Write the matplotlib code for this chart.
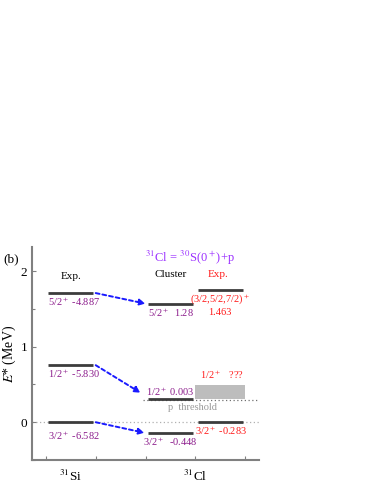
import matplotlib.pyplot as plt
from matplotlib.patches import Rectangle
from matplotlib.ticker import MultipleLocator

plt.rcParams['font.family'] = ['Liberation Serif', 'DejaVu Serif']
plt.rcParams['mathtext.fontset'] = 'stix'

# level energies (MeV, as drawn)
si_levels = [1.71, 0.755, 0.0]
si_labels = ["5/2$^+$ -4.887", "1/2$^+$ -5.830", "3/2$^+$ -6.582"]
cl_levels = [1.56, 0.305, -0.145]
cl_labels = ["5/2$^+$  1.28", "1/2$^+$ 0.003", "3/2$^+$  -0.448"]
exp_levels = [1.75, 0.0]
threshold = 0.29
box_top = 0.49

purple = "#8b1a8b"
red = "#ff1a1a"
violet = "#9b30ff"
blue = "#1a1aff"
lvl = "#3c3c3c"
gray = "#808080"

fig = plt.figure(figsize=(3.74, 4.84), dpi=100)
ax = fig.add_axes([32/374, 24/484, 227/374, 213/484])
ax.set_xlim(-0.28, 4.28)
ax.set_ylim(-0.5, 2.32)

for e in si_levels:
    ax.plot([0.05, 0.95], [e, e], color=lvl, lw=2.0, solid_capstyle='butt', zorder=3)
for e in cl_levels:
    ax.plot([2.05, 2.95], [e, e], color=lvl, lw=2.0, solid_capstyle='butt', zorder=3)
for e in exp_levels:
    ax.plot([3.05, 3.95], [e, e], color=lvl, lw=2.0, solid_capstyle='butt', zorder=3)

ax.axhline(0, color="#b0b0b0", ls=(0, (1, 2)), lw=0.9, zorder=1)
ax.plot([1.95, 4.25], [threshold, threshold], color="#707070", ls=(0, (1, 2)), lw=0.9, zorder=1)
ax.add_patch(Rectangle((3.0, threshold + 0.02), 1.0, box_top - threshold - 0.02,
                       color="#bdbdbd", lw=0, zorder=2))

# arrows Si -> Cl
ends = [(2.0, 1.57), (1.9, 0.39), (1.98, -0.14)]
for e, (xe, ye) in zip(si_levels, ends):
    ax.annotate("", xy=(xe, ye), xytext=(1.0, e),
                arrowprops=dict(arrowstyle="-|>", color=blue, lw=1.4, ls=(0, (2, 1.5)),
                                mutation_scale=9, shrinkA=0, shrinkB=0))

fs = 7.5
ax.text(0.05, si_levels[0] - 0.03, si_labels[0], color=purple, fontsize=fs, va='top')
ax.text(0.05, si_levels[1] - 0.03, si_labels[1], color=purple, fontsize=fs, va='top')
ax.text(0.05, si_levels[2] - 0.1, si_labels[2], color=purple, fontsize=fs, va='top')
ax.text(2.05, cl_levels[0] - 0.03, cl_labels[0], color=purple, fontsize=fs, va='top')
ax.text(2.0, cl_levels[1] + 0.02, cl_labels[1], color=purple, fontsize=fs, va='bottom')
ax.text(1.95, cl_levels[2] - 0.03, cl_labels[2], color=purple, fontsize=fs, va='top')
ax.text(3.5, exp_levels[0] - 0.03, "(3/2,5/2,7/2)$^+$", color=red, fontsize=fs, va='top', ha='center')
ax.text(3.5, exp_levels[0] - 0.24, "1.463", color=red, fontsize=fs, va='top', ha='center')
ax.text(3.1, box_top + 0.05, "1/2$^+$   ???", color=red, fontsize=fs, va='bottom')
ax.text(3.0, exp_levels[1] - 0.03, "3/2$^+$ -0.283", color=red, fontsize=fs, va='top')
ax.text(2.95, threshold - 0.04, "p  threshold", color="#999999", fontsize=fs, va='top', ha='center')

ax.text(0.5, 1.9, "Exp.", color="black", fontsize=8, ha='center')
ax.text(2.5, 1.92, "Cluster", color="black", fontsize=8, ha='center')
ax.text(3.45, 1.92, "Exp.", color=red, fontsize=8, ha='center')
ax.text(2.9, 2.12, "$^{31}$Cl = $^{30}$S(0$^+$)+p", color=violet, fontsize=9, ha='center')
fig.text(3/374, 1 - 262/484, "(b)", fontsize=9.5)

ax.set_ylabel("$E$* (MeV)", fontsize=10, labelpad=2)
ax.set_xticks([0, 1, 2, 3, 4])
ax.set_xticklabels([])
ax.text(0.5, -0.62, "$^{31}$Si", fontsize=9.5, ha='center', va='top')
ax.text(3.0, -0.62, "$^{31}$Cl", fontsize=9.5, ha='center', va='top')
ax.set_yticks([0, 1, 2])
ax.yaxis.set_minor_locator(MultipleLocator(0.5))
ax.tick_params(direction='in', length=3, width=0.8, color=gray, labelsize=9.5)
ax.tick_params(which='minor', direction='in', length=2, width=0.8, color=gray)
for s in ['top', 'right']:
    ax.spines[s].set_visible(False)
for s in ['left', 'bottom']:
    ax.spines[s].set_color(gray)
    ax.spines[s].set_linewidth(1.5)

fig.savefig("out.png", dpi=100)
